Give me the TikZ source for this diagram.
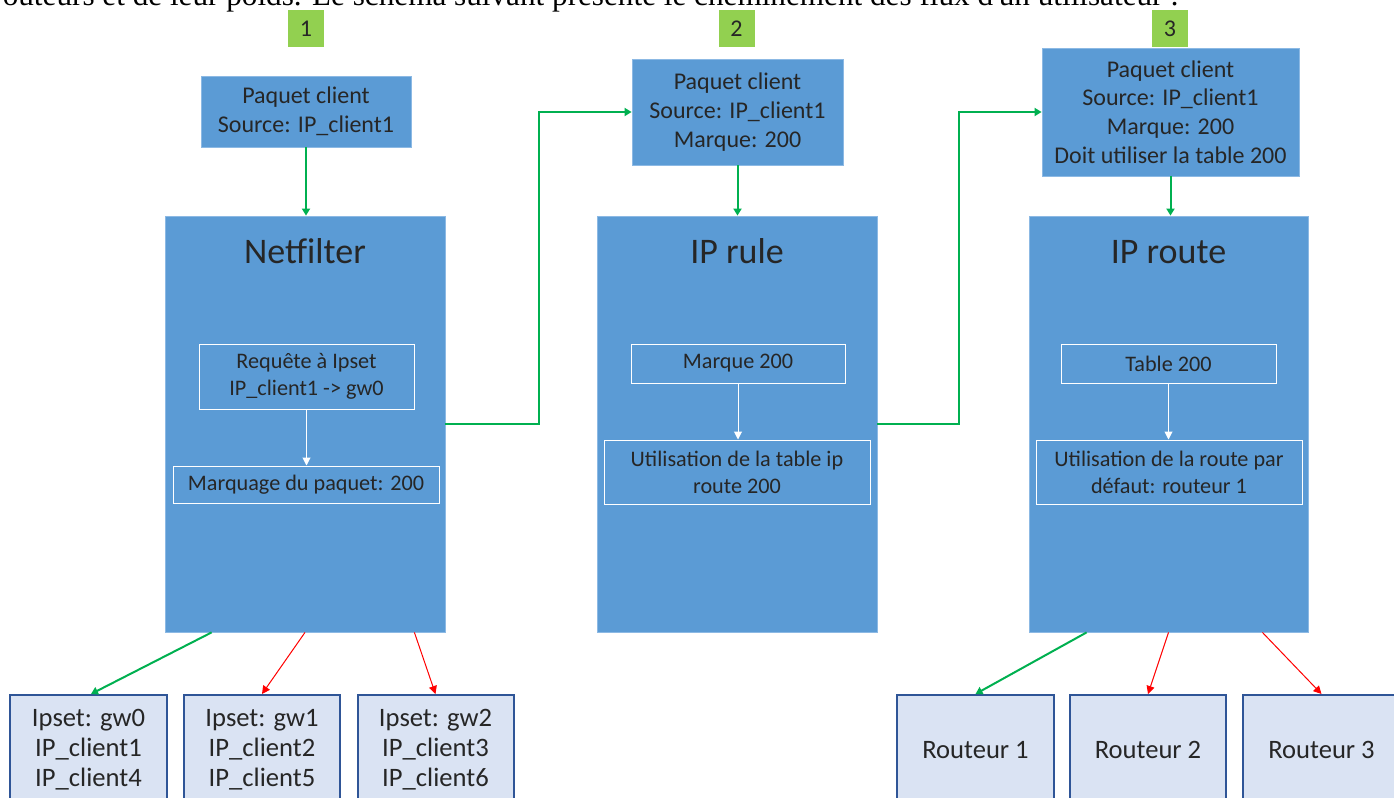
\documentclass[tikz,border=0pt]{standalone}
\usepackage{fontspec}
\setmainfont{Carlito}
\newfontfamily\serifnote{Liberation Serif}
\usetikzlibrary{arrows.meta}
\definecolor{boxblue}{RGB}{91,155,213}
\definecolor{boxedge}{RGB}{140,185,228}
\definecolor{lightfill}{RGB}{218,227,243}
\definecolor{darkedge}{RGB}{47,85,151}
\definecolor{numgreen}{RGB}{146,208,80}
\definecolor{arrgreen}{RGB}{0,176,80}
\definecolor{arrred}{RGB}{255,0,0}
\definecolor{txt}{RGB}{38,38,38}
\tikzset{
  body/.style={font=\fontsize{12}{14.3}\selectfont, text=txt, align=center, inner sep=0pt},
  numbox/.style={body, fill=numgreen, minimum width=18pt, minimum height=18.5pt},
  pkt/.style={body, fill=boxblue, draw=boxedge, line width=0.4pt},
  bigbox/.style={fill=boxblue, draw=boxedge, line width=0.4pt, minimum width=140pt, minimum height=208pt, inner sep=0pt},
  title/.style={font=\fontsize{18}{21}\selectfont, text=txt, inner sep=0pt, anchor=base},
  inner/.style={body, draw=white, line width=0.5pt, font=\fontsize{11.1}{13.5}\selectfont},
  leaf/.style={body, fill=lightfill, draw=darkedge, line width=1pt, minimum height=55pt, font=\fontsize{13.3}{15}\selectfont},
  garrow/.style={draw=arrgreen, line width=1pt, -{Triangle[width=4pt,length=3.5pt]}},
  rarrow/.style={draw=arrred, line width=0.5pt, -{Triangle[width=4pt,length=4pt]}},
  warrow/.style={draw=white, line width=0.5pt, -{Triangle[width=4pt,length=4pt]}},
}
\begin{document}
\begin{tikzpicture}[x=0.5pt,y=-0.5pt]
\useasboundingbox (0,0) rectangle (1394,798);
\clip (0,0) rectangle (1394,798);
\node[anchor=base west, inner sep=0pt, font=\serifnote\fontsize{15.6}{17}\selectfont] (intro) at (-8,5)
  {routeurs et de leur poids. Le schéma suivant présente le cheminement des flux d'un utilisateur :};
% step numbers
\node[numbox] (g1) at (306,28.5) {1};
\node[numbox] (g2) at (736.5,28.5) {2};
\node[numbox] (g3) at (1170,28.5) {3};
% packets
\node[pkt, minimum width=105pt, minimum height=35.5pt] (p1) at (306,111.5) {Paquet client\\Source: IP\_client1};
\node[pkt, minimum width=105.5pt, minimum height=53pt] (p2) at (737.5,112) {Paquet client\\Source: IP\_client1\\Marque: 200};
\node[pkt, minimum width=128.5pt, minimum height=64pt] (p3) at (1170.5,112) {Paquet client\\Source: IP\_client1\\Marque: 200\\Doit utiliser la table 200};
% big boxes
\node[bigbox] (nf) at (305,424) {};
\node[bigbox] (ipr) at (737,424) {};
\node[bigbox, minimum width=139.5pt] (iprt) at (1168.5,424) {};
\node[title] (tnf) at (305,263) {Netfilter};
\node[title] (tipr) at (737,263) {IP rule};
\node[title] (tiprt) at (1168.5,263) {IP route};
% inner boxes
\node[inner, minimum width=107.5pt, minimum height=32.5pt] (n1) at (306.5,376.5) {Requête à Ipset\\IP\_client1 -> gw0};
\node[inner, minimum width=133pt, minimum height=18.5pt] (n2) at (306,484.5) {Marquage du paquet: 200};
\node[inner, minimum width=107pt, minimum height=19.5pt] (r1) at (738,363.5) {Marque 200};
\node[inner, minimum width=133pt, minimum height=32pt] (r2) at (737,472) {Utilisation de la table ip\\route 200};
\node[inner, minimum width=107.5pt, minimum height=19.5pt] (t1) at (1168.5,363.5) {Table 200};
\node[inner, minimum width=133pt, minimum height=32pt] (t2) at (1169,472) {Utilisation de la route par\\défaut: routeur 1};
% leaves
\node[leaf, minimum width=78.5pt] (b1) at (88.5,750) {Ipset: gw0\\IP\_client1\\IP\_client4};
\node[leaf, minimum width=78pt] (b2) at (262,750) {Ipset: gw1\\IP\_client2\\IP\_client5};
\node[leaf, minimum width=78pt] (b3) at (435.5,750) {Ipset: gw2\\IP\_client3\\IP\_client6};
\node[leaf, minimum width=78.5pt] (R1) at (975.5,750) {Routeur 1};
\node[leaf, minimum width=78pt] (R2) at (1148,750) {Routeur 2};
\node[leaf, minimum width=78.5pt] (R3) at (1321.5,750) {Routeur 3};
% green flow
\draw[garrow] (p1.south) -- (p1.south |- nf.north);
\draw[garrow] (nf.east) -- ++(94,0) |- (p2.west);
\draw[garrow] (p2.south) -- (p2.south |- ipr.north);
\draw[garrow] (ipr.east) -- ++(82,0) |- (p3.west);
\draw[garrow] (p3.south) -- (p3.south |- iprt.north);
% white inner arrows
\draw[warrow] (n1.south) -- (n1.south |- n2.north);
\draw[warrow] (r1.south) -- (r1.south |- r2.north);
\draw[warrow] (t1.south) -- (t1.south |- t2.north);
% leaves arrows
\draw[garrow] ([xshift=23.5pt]nf.south west) -- ([xshift=1.25pt]b1.north);
\draw[rarrow] (nf.south) -- (b2.north);
\draw[rarrow] ([xshift=-15.5pt]nf.south east) -- (b3.north);
\draw[garrow] ([xshift=29pt]iprt.south west) -- (R1.north);
\draw[rarrow] (iprt.south) -- (R2.north);
\draw[rarrow] ([xshift=-23pt]iprt.south east) -- (R3.north);
\end{tikzpicture}
\end{document}
